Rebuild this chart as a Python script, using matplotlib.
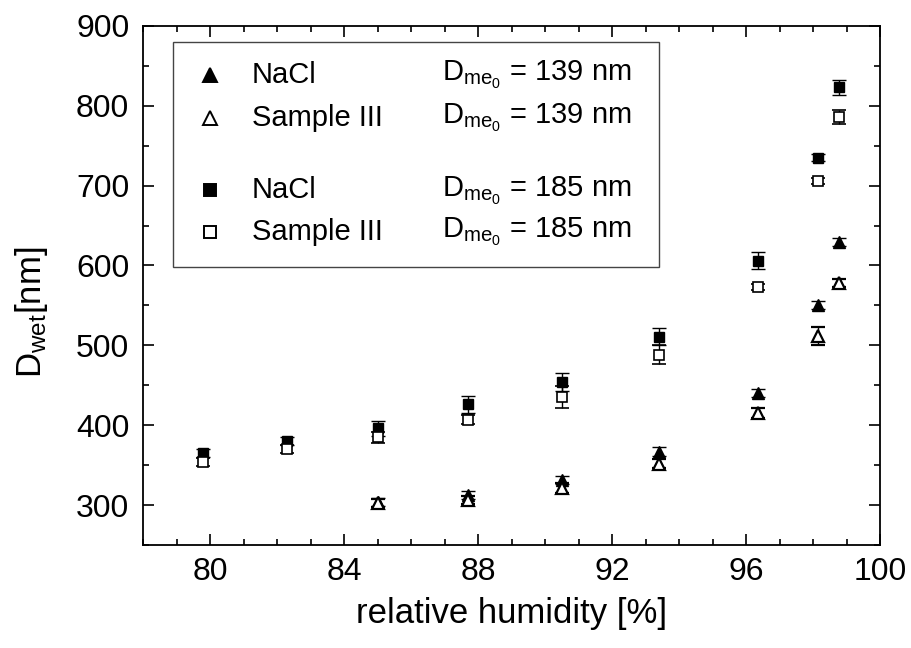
import numpy as np
import matplotlib.pyplot as plt
from matplotlib.patches import Rectangle
from matplotlib.ticker import MultipleLocator

plt.rcParams['font.family'] = ['Liberation Sans', 'DejaVu Sans']
plt.rcParams['mathtext.fontset'] = 'custom'
plt.rcParams['mathtext.rm'] = 'Liberation Sans'
plt.rcParams['mathtext.it'] = 'Liberation Sans:italic'

# relative humidity [%]
rh_tri = [85.0, 87.7, 90.5, 93.4, 96.35, 98.16, 98.78]
rh_sq = [79.8, 82.3, 85.0, 87.7, 90.5, 93.4, 96.35, 98.16, 98.78]

# D_me0 = 139 nm
nacl_139 = [304, 312, 331, 367, 440, 550, 630]
nacl_139_err = [5, 5, 5, 6, 5, 5, 5]
s3_139 = [302, 306, 321, 352, 415, 512, 578]
s3_139_err = [5, 5, 6, 6, 6, 11, 5]

# D_me0 = 185 nm
nacl_185 = [365, 380, 396, 426, 454, 511, 606, 735, 823]
nacl_185_err = [5, 5, 9, 11, 11, 11, 11, 4, 9]
s3_185 = [354, 370, 385, 407, 435, 488, 573, 706, 786]
s3_185_err = [5, 5, 7, 6, 14, 12, 4, 4, 9]

fig = plt.figure(figsize=(9.12, 6.48), dpi=100)
ax = fig.add_axes([0.157, 0.159, 0.808, 0.801])

eb = dict(ls='none', ecolor='black', elinewidth=1, capsize=5, capthick=1)
ax.errorbar(rh_tri, nacl_139, yerr=nacl_139_err, marker='^', ms=9,
            mfc='black', mec='black', **eb)
ax.errorbar(rh_tri, s3_139, yerr=s3_139_err, marker='^', ms=9,
            mfc='white', mec='black', mew=1.6, **eb)
ax.errorbar(rh_sq, nacl_185, yerr=nacl_185_err, marker='s', ms=7,
            mfc='black', mec='black', **eb)
ax.errorbar(rh_sq, s3_185, yerr=s3_185_err, marker='s', ms=7,
            mfc='white', mec='black', mew=1.2, **eb)

ax.set_xlim(78, 100)
ax.set_ylim(250, 900)
ax.xaxis.set_major_locator(MultipleLocator(4))
ax.xaxis.set_minor_locator(MultipleLocator(1))
ax.yaxis.set_major_locator(MultipleLocator(100))
ax.yaxis.set_minor_locator(MultipleLocator(50))
ax.tick_params(which='both', direction='in', top=True, right=True,
               labelsize=23, width=1.2)
ax.tick_params(axis='x', pad=9)
ax.tick_params(axis='y', pad=10)
ax.tick_params(which='major', length=8)
ax.tick_params(which='minor', length=4)
for s in ax.spines.values():
    s.set_linewidth(1.3)

ax.set_xlabel('relative humidity [%]', fontsize=25, labelpad=7)
ax.set_ylabel(r'D$_{\mathrm{wet}}$[nm]', fontsize=25, labelpad=19)
ax.yaxis.label.set_y(0.449)

# legend drawn by hand
ax.add_patch(Rectangle((0.040, 0.536), 0.660, 0.433, transform=ax.transAxes,
                       fill=False, ec='#444444', lw=1.0, zorder=5))
rows = [
    ('^', 'black', 'NaCl', '139'),
    ('^', 'white', 'Sample III', '139'),
    ('s', 'black', 'NaCl', '185'),
    ('s', 'white', 'Sample III', '185'),
]
row_y = [0.905, 0.823, 0.683, 0.603]
for (m, fc, name, d), y in zip(rows, row_y):
    ax.plot([0.090], [y], marker=m, ms=10 if m == '^' else 8, mfc=fc,
            mec='black', mew=1.4, ls='none', transform=ax.transAxes)
    ax.text(0.147, y, name, fontsize=21, va='center', transform=ax.transAxes)
    ax.text(0.405, y, r'D$_{\mathrm{me}_{0}}$ = ' + d + ' nm', fontsize=21,
            va='center', transform=ax.transAxes)

fig.savefig('out.png', dpi=100)
